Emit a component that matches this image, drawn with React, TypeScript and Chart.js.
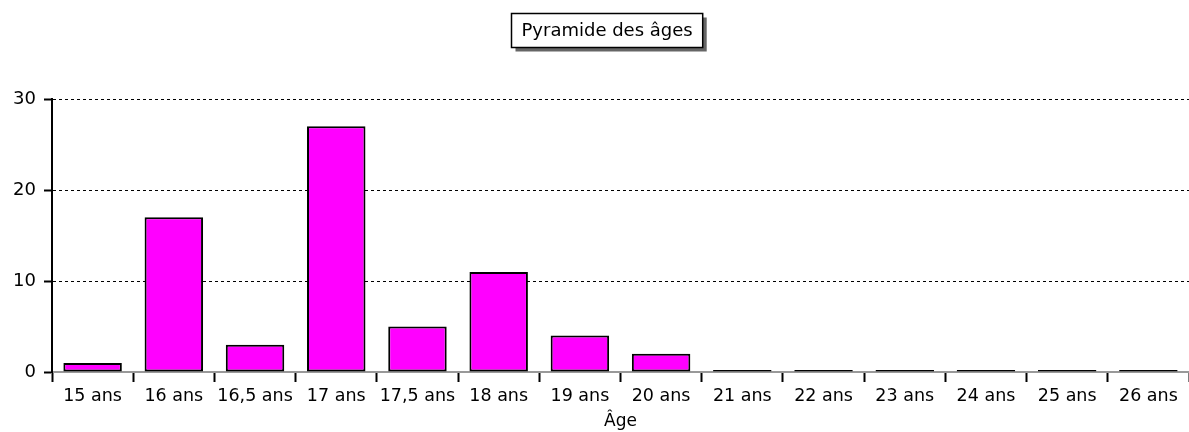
import React, { useEffect, useRef } from "react";
import { Chart, registerables } from "chart.js";

Chart.register(...registerables);

const categories = ["15 ans", "16 ans", "16,5 ans", "17 ans", "17,5 ans", "18 ans", "19 ans", "20 ans", "21 ans", "22 ans", "23 ans", "24 ans", "25 ans", "26 ans"];
const counts = [1, 17, 3, 27, 5, 11, 4, 2, 0, 0, 0, 0, 0, 0];
const yTicks = [0, 10, 20, 30];
const chartTitle = "Pyramide des âges";
const xTitle = "Âge";

const FONT = "'DejaVu Sans', Verdana, sans-serif";

const titleBoxPlugin = {
  id: "titleBox",
  afterDraw(chart: any) {
    const ctx = chart.ctx;
    ctx.save();
    ctx.font = `18px ${FONT}`;
    const w = ctx.measureText(chartTitle).width + 20;
    const h = 34;
    const cx = 607;
    const x = Math.round(cx - w / 2) + 0.5;
    const y = 13.5;
    ctx.fillStyle = "#666";
    ctx.fillRect(x + 4, y + 4, w, h);
    ctx.fillStyle = "#fff";
    ctx.fillRect(x, y, w, h);
    ctx.strokeStyle = "#000";
    ctx.lineWidth = 1.5;
    ctx.strokeRect(x, y, w, h);
    ctx.fillStyle = "#000";
    ctx.textAlign = "center";
    ctx.textBaseline = "middle";
    ctx.fillText(chartTitle, x + w / 2, y + h / 2 + 1);
    ctx.restore();
  },
};

export default function App() {
  const ref = useRef<HTMLCanvasElement>(null);
  useEffect(() => {
    document.body.style.margin = "0";
    const chart = new Chart(ref.current!, {
      type: "bar",
      data: {
        labels: categories,
        datasets: [
          {
            data: counts,
            backgroundColor: "#ff00ff",
            borderColor: "#000",
            borderWidth: 2,
            borderSkipped: false,
            categoryPercentage: 1,
            barPercentage: 0.72,
            minBarLength: 2,
          },
        ],
      },
      options: {
        animation: false,
        responsive: false,
        maintainAspectRatio: false,
        layout: { padding: { top: 99, right: 0, left: 0, bottom: 0 } },
        plugins: { legend: { display: false }, tooltip: { enabled: false }, title: { display: false } },
        scales: {
          x: {
            offset: true,
            grid: { drawOnChartArea: false, drawTicks: true, tickLength: 10, tickColor: "#000", tickWidth: 2, offset: true },
            border: { display: true, color: "#999", width: 2 },
            ticks: { color: "#000", font: { family: FONT, size: 17.5 }, padding: 4, maxRotation: 0, autoSkip: false },
            title: { display: true, text: xTitle, color: "#000", font: { family: FONT, size: 17 }, padding: { top: 3, bottom: 0 } },
            afterFit: (s: any) => { s.height = 60; },
          },
          y: {
            min: 0,
            max: 30,
            afterBuildTicks: (s: any) => { s.ticks = yTicks.map((v) => ({ value: v })); },
            grid: {
              color: (c: any) => (c.tick && c.tick.value === 0 ? "rgba(0,0,0,0)" : "#000"),
              lineWidth: 1,
              drawTicks: true,
              tickLength: 8,
              tickColor: "#000",
              tickWidth: 2,
              tickBorderDash: [],
            },
            border: { display: true, color: "#000", width: 2, dash: [3, 3] },
            ticks: { color: "#000", font: { family: FONT, size: 18 }, padding: 8 },
            afterFit: (s: any) => { s.width = 52; },
          },
        },
      },
      plugins: [titleBoxPlugin],
    });
    return () => chart.destroy();
  }, []);
  return (
    <div style={{ width: 1189, height: 432 }}>
      <canvas ref={ref} width={1189} height={432} />
    </div>
  );
}
